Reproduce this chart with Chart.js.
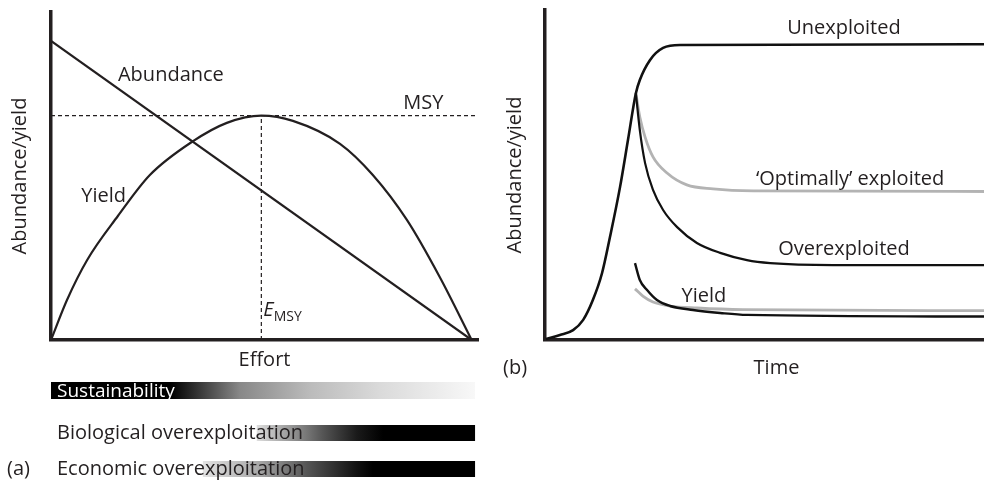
<!DOCTYPE html>
<html><head><meta charset="utf-8">
<script src="https://cdn.jsdelivr.net/npm/chart.js@4.4.0/dist/chart.umd.min.js"></script>
<style>
html,body{margin:0;padding:0;background:#fff;overflow:hidden;width:984px;height:495px;position:relative;}
#ca{position:absolute;left:0;top:0;}
#cb{position:absolute;left:490px;top:0;}
</style></head><body>
<canvas id="ca" width="490" height="495"></canvas>
<canvas id="cb" width="530" height="495"></canvas>
<script>
// ---------- Panel (a): abundance / yield vs effort ----------
const effortAbundance = [0, 10];
const abundanceValues = [91.2, 0];
const effortYield = [0, 0.38, 0.86, 1.59, 2.35, 3.35, 4.18, 5.0, 5.75, 6.87, 7.65, 8.46, 9.24, 10.0];
const yieldValues = [0, 12.2, 24.4, 37.8, 50.3, 60.4, 66.2, 68.4, 66.8, 59.8, 50.3, 36.6, 19.2, 0];
const msyValue = 68.4;
const eMsy = 5.0;
const effortMax = 10.15;

// ---------- Panel (b): abundance / yield vs time ----------
const timeUnexploited = [0.2, 3.4, 6.4, 8.7, 10.9, 13.0, 14.8, 17.1, 18.9, 20.7, 21.6, 23.9, 26.9, 30.8, 101];
const unexploitedValues = [0.3, 1.5, 3.0, 6.1, 12.1, 20.3, 31.2, 46.4, 60.6, 74.8, 78.8, 84.8, 88.5, 89.4, 89.6];
const timeOptimal = [20.7, 21.6, 22.8, 24.6, 27.8, 32.3, 38.3, 47.4, 101];
const optimalValues = [74.8, 67.6, 61.5, 55.5, 50.6, 47.0, 45.8, 45.2, 45.0];
const timeOver = [20.7, 21.6, 22.8, 24.6, 26.9, 30.1, 34.6, 39.9, 46.0, 51.3, 65.6, 101];
const overValues = [74.8, 63.6, 53.6, 45.5, 39.4, 34.2, 29.4, 26.4, 24.2, 23.3, 22.7, 22.7];
const timeYieldOver = [20.5, 21.6, 23.2, 25.5, 28.5, 33.7, 39.9, 46.0, 101];
const yieldOverValues = [23.3, 18.2, 15.2, 12.1, 10.3, 9.1, 8.2, 7.6, 7.1];
const timeYieldOpt = [20.5, 22.3, 24.6, 28.5, 34.6, 45.1, 101];
const yieldOptValues = [15.5, 13.3, 11.5, 10.3, 9.7, 9.2, 8.9];
const timeMax = 105.47;

// ---------- text ----------
const labelsA = [
  {text: 'Abundance', x: 2.85, y: 79.0},
  {text: 'MSY', x: 8.85, y: 70.3},
  {text: 'Yield', x: 1.25, y: 42.1}
];
const labelsB = [
  {text: 'Unexploited', x: 68.1, y: 92.6},
  {text: '\u2018Optimally\u2019 exploited', x: 69.5, y: 47.0},
  {text: 'Overexploited', x: 68.1, y: 25.8},
  {text: 'Yield', x: 36.2, y: 11.6}
];
const stripLabels = ['Sustainability', 'Biological overexploitation', 'Economic overexploitation'];

const FONT = "'Open Sans', sans-serif";
const INK = '#231f20';
const GREY = '#b3b3b3';

const pts = (xs, ys) => xs.map((x, i) => ({x, y: ys[i]}));

// strip styling (effort-axis positions of gradient stops)
const stripStyle = [
  {from: 0, to: 10.08, top: 382, h: 17, size: 19, textColor: '#fff', stops: [[2.85, '#000'], [4.49, '#888'], [6.16, '#bbb'], [7.82, '#dadada'], [10.08, '#f8f8f8']]},
  {from: 4.89, to: 10.08, top: 425, h: 16, size: 20, textColor: INK, stops: [[4.89, '#dedede'], [5.68, '#999'], [6.46, '#555'], [7.27, '#1a1a1a'], [7.89, '#000'], [10.08, '#000']]},
  {from: 3.61, to: 10.08, top: 461, h: 16, size: 20, textColor: INK, stops: [[3.61, '#e2e2e2'], [4.90, '#aaa'], [6.08, '#555'], [7.27, '#111'], [7.65, '#000'], [10.08, '#000']]}
];

function textPlugin(id, labels, extra) {
  return {
    id,
    afterDraw(chart) {
      const {ctx, scales: {x, y}} = chart;
      ctx.save();
      if (extra) extra(chart, ctx, x, y);
      ctx.font = '20px ' + FONT;
      ctx.fillStyle = INK;
      ctx.textAlign = 'center';
      ctx.textBaseline = 'alphabetic';
      labels.forEach(l => ctx.fillText(l.text, x.getPixelForValue(l.x), y.getPixelForValue(l.y)));
      ctx.restore();
    }
  };
}

function baseScales(xMax, yWidth, xTitle, xPadBottom, yPadTop) {
  return {
    x: {
      type: 'linear', min: 0, max: xMax,
      grid: {display: false, drawTicks: false},
      ticks: {display: false},
      border: {display: true, color: INK, width: 3.5},
      title: {display: true, text: xTitle, color: INK, font: {family: FONT, size: 20}, padding: {top: 0, bottom: xPadBottom}},
      afterFit: s => { s.height = 40; }
    },
    y: {
      type: 'linear', min: 0, max: 100,
      grid: {display: false, drawTicks: false},
      ticks: {display: false},
      border: {display: true, color: INK, width: 3.5},
      title: {display: true, text: 'Abundance/yield', color: INK, font: {family: FONT, size: 20}, padding: {top: yPadTop, bottom: 0}},
      afterFit: s => { s.width = yWidth; }
    }
  };
}

const commonPlugins = {legend: {display: false}, tooltip: {enabled: false}};

new Chart(document.getElementById('ca'), {
  type: 'line',
  data: {datasets: [
    {label: 'Abundance', data: pts(effortAbundance, abundanceValues), borderColor: INK, borderWidth: 2.2, pointRadius: 0, tension: 0},
    {label: 'Yield', data: pts(effortYield, yieldValues), borderColor: INK, borderWidth: 2.2, pointRadius: 0, cubicInterpolationMode: 'monotone'},
    {label: 'MSY', data: [{x: 0, y: msyValue}, {x: effortMax, y: msyValue}], borderColor: INK, borderWidth: 1.2, borderDash: [4, 3], pointRadius: 0},
    {label: 'E_MSY', data: [{x: eMsy, y: 0}, {x: eMsy, y: msyValue}], borderColor: INK, borderWidth: 1.2, borderDash: [4, 3], pointRadius: 0}
  ]},
  options: {
    responsive: false, animation: false, events: [],
    layout: {padding: {left: 0, top: 12, right: 12, bottom: 115}},
    scales: baseScales(effortMax, 51, 'Effort', 8, 8),
    plugins: commonPlugins
  },
  plugins: [textPlugin('labelsA', labelsA, (chart, ctx, x, y) => {
    // E_MSY label
    const ex = x.getPixelForValue(eMsy) + 2, ey = y.getPixelForValue(7.2);
    ctx.fillStyle = INK;
    ctx.textAlign = 'left';
    ctx.font = 'italic 20px ' + FONT;
    ctx.fillText('E', ex, ey);
    const w = ctx.measureText('E').width;
    ctx.font = '14px ' + FONT;
    ctx.fillText('MSY', ex + w, ey + 5);
    // strips
    stripStyle.forEach((s, i) => {
      const x0 = x.getPixelForValue(s.from), x1 = x.getPixelForValue(s.to);
      const g = ctx.createLinearGradient(x0, 0, x1, 0);
      s.stops.forEach(([v, c]) => g.addColorStop(Math.min(1, Math.max(0, (x.getPixelForValue(v) - x0) / (x1 - x0))), c));
      ctx.fillStyle = g;
      ctx.fillRect(x0, s.top, x1 - x0, s.h);
      ctx.fillStyle = s.textColor;
      ctx.font = s.size + 'px ' + FONT;
      ctx.textAlign = 'left';
      ctx.fillText(stripLabels[i], 57, s.top + s.h - 2);
    });
    ctx.fillStyle = INK;
    ctx.font = '20px ' + FONT;
    ctx.fillText('(a)', 7, 475);
  })]
});

new Chart(document.getElementById('cb'), {
  type: 'line',
  data: {datasets: [
    {label: 'Unexploited', data: pts(timeUnexploited, unexploitedValues), borderColor: '#111', borderWidth: 2.6, pointRadius: 0, cubicInterpolationMode: 'monotone'},
    {label: 'Overexploited', data: pts(timeOver, overValues), borderColor: '#111', borderWidth: 2.2, pointRadius: 0, cubicInterpolationMode: 'monotone'},
    {label: 'Yield (overexploited)', data: pts(timeYieldOver, yieldOverValues), borderColor: '#111', borderWidth: 2.4, pointRadius: 0, cubicInterpolationMode: 'monotone'},
    {label: 'Optimally exploited', data: pts(timeOptimal, optimalValues), borderColor: GREY, borderWidth: 2.8, pointRadius: 0, cubicInterpolationMode: 'monotone'},
    {label: 'Yield (optimal)', data: pts(timeYieldOpt, yieldOptValues), borderColor: GREY, borderWidth: 2.8, pointRadius: 0, cubicInterpolationMode: 'monotone'}
  ]},
  options: {
    responsive: false, animation: false, events: [],
    layout: {padding: {left: 0, top: 10, right: 12, bottom: 115}},
    scales: baseScales(timeMax, 55, 'Time', 0, 13),
    plugins: commonPlugins
  },
  plugins: [textPlugin('labelsB', labelsB, (chart, ctx) => {
    ctx.fillStyle = INK;
    ctx.font = '20px ' + FONT;
    ctx.textAlign = 'left';
    ctx.fillText('(b)', 13, 374);
  })]
});
</script>
</body></html>
